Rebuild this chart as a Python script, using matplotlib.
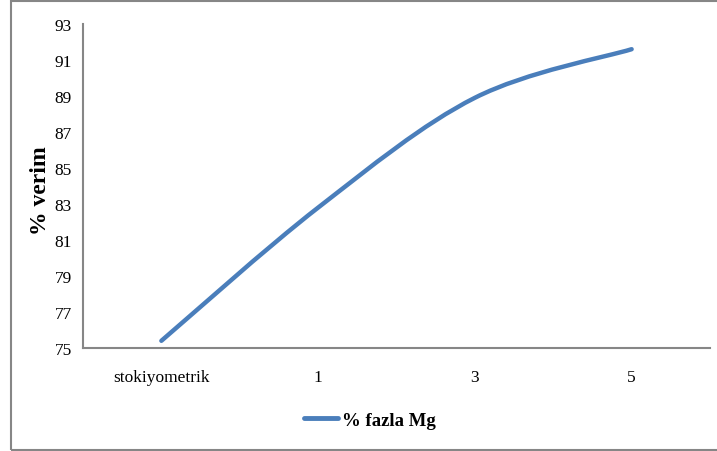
import numpy as np
import matplotlib.pyplot as plt
from matplotlib.path import Path
from matplotlib.patches import PathPatch, Rectangle
from matplotlib.lines import Line2D

categories = ['stokiyometrik', '1', '3', '5']
verim = [75.4, 82.8, 88.9, 91.6]
series_name = '% fazla Mg'

plt.rcParams['font.family'] = ['Liberation Serif', 'DejaVu Serif']
line_color = '#4A7EBB'

fig = plt.figure(figsize=(7.17, 4.52), dpi=100, facecolor='white')
ax = fig.add_axes([83 / 717, 1 - 349 / 452, 627 / 717, 324 / 452])

# Excel-style smoothed line: cardinal spline through the points as cubic Bezier
x = np.arange(len(verim), dtype=float)
y = np.array(verim)
t = 1 / 6
verts = [(x[0], y[0])]
codes = [Path.MOVETO]
for i in range(len(x) - 1):
    p0 = np.array([x[max(i - 1, 0)], y[max(i - 1, 0)]])
    p1 = np.array([x[i], y[i]])
    p2 = np.array([x[i + 1], y[i + 1]])
    p3 = np.array([x[min(i + 2, len(x) - 1)], y[min(i + 2, len(x) - 1)]])
    c1 = p1 + (p2 - p0) * t
    c2 = p2 - (p3 - p1) * t
    verts += [tuple(c1), tuple(c2), tuple(p2)]
    codes += [Path.CURVE4] * 3
ax.add_patch(PathPatch(Path(verts, codes), facecolor='none', edgecolor=line_color,
                       lw=3.2, capstyle='round', joinstyle='round'))

ax.set_xlim(-0.5, len(categories) - 0.5)
ax.set_ylim(75, 93)
ax.set_yticks(np.arange(75, 94, 2))
ax.set_xticks(x)
ax.set_xticklabels(categories)
ax.tick_params(length=0, labelsize=12.5)
ax.tick_params(axis='x', pad=15)
ax.tick_params(axis='y', pad=8)
for s in ['top', 'right']:
    ax.spines[s].set_visible(False)
for s in ['left', 'bottom']:
    ax.spines[s].set_color('#868686')
    ax.spines[s].set_linewidth(1.5)

fig.text(40 / 717, 1 - 191 / 452, '% verim', rotation=90, ha='center', va='center',
         fontsize=17, fontweight='bold')

handle = Line2D([], [], color=line_color, lw=3.5, solid_capstyle='round')
fig.legend([handle], [series_name], loc='center', bbox_to_anchor=(370 / 717, 1 - 421 / 452),
           frameon=False, prop={'size': 13.5, 'weight': 'bold'}, handlelength=1.8,
           handletextpad=0.2)

fig.add_artist(Rectangle((11 / 717, 1 / 452), 720 / 717, 449 / 452, transform=fig.transFigure,
                         fill=False, edgecolor='#868686', lw=1.5))

fig.savefig('out.png', dpi=100)
